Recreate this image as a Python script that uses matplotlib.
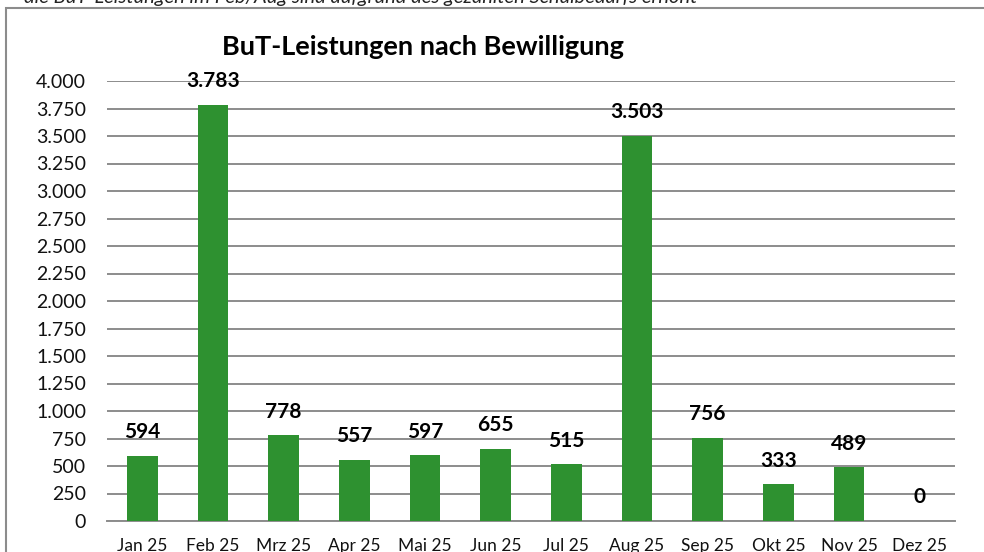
import matplotlib
matplotlib.use('Agg')
import matplotlib.pyplot as plt
from matplotlib.patches import Rectangle
from matplotlib.ticker import FuncFormatter

months = ['Jan 25', 'Feb 25', 'Mrz 25', 'Apr 25', 'Mai 25', 'Jun 25',
          'Jul 25', 'Aug 25', 'Sep 25', 'Okt 25', 'Nov 25', 'Dez 25']
leistungen = [594, 3783, 778, 557, 597, 655, 515, 3503, 756, 333, 489, 0]
y_ticks = list(range(0, 4001, 250))

plt.rcParams['font.family'] = ['Lato', 'DejaVu Sans']

def fmt_de(v, pos=None):
    return f"{int(v):,}".replace(',', '.')

fig = plt.figure(figsize=(9.84, 5.52), dpi=100)
fig.patch.set_facecolor('white')

# Rahmen des Diagramms
fig.patches.append(Rectangle((6 / 984, -0.01), 2, (552 - 8) / 552 + 0.01,
                             transform=fig.transFigure, fill=False,
                             edgecolor='#8c8c8c', linewidth=1.5))
# Anmerkung oben (im Original am Rand abgeschnitten)
fig.text(24 / 984, 1 - 3 / 552,
         'die BuT-Leistungen im Feb/Aug sind aufgrund des gezahlten Schulbedarfs erhöht',
         fontsize=14.5, style='italic', ha='left', va='baseline', color='#222222')

ax = fig.add_axes([107 / 984, 31 / 552, 848 / 984, 440 / 552])
x = range(len(months))
ax.bar(x, leistungen, width=0.43, color='#2e9130', zorder=3)

for i, v in enumerate(leistungen):
    ax.annotate(fmt_de(v), (i, v), xytext=(0, 17), textcoords='offset points',
                ha='center', va='center', fontsize=15, fontweight='bold', zorder=4)

ax.set_xlim(-0.5, len(months) - 0.5)
ax.set_ylim(0, 4000)
ax.set_yticks(y_ticks)
ax.yaxis.set_major_formatter(FuncFormatter(fmt_de))
ax.set_xticks(list(x))
ax.set_xticklabels(months)
ax.tick_params(axis='both', length=0, colors='#111111')
ax.tick_params(axis='x', pad=12, labelsize=12.5)
ax.tick_params(axis='y', pad=15, labelsize=14)
ax.grid(axis='y', color='#8c8c8c', linewidth=1.4, zorder=0)
for s in ['top', 'right', 'left']:
    ax.spines[s].set_visible(False)
ax.spines['bottom'].set_color('#8c8c8c')
ax.spines['bottom'].set_linewidth(1.4)

fig.text(423 / 984, 1 - 47 / 552, 'BuT-Leistungen nach Bewilligung', ha='center', va='center',
         fontsize=19.5, fontweight='bold')

fig.savefig('out.png', dpi=100)
